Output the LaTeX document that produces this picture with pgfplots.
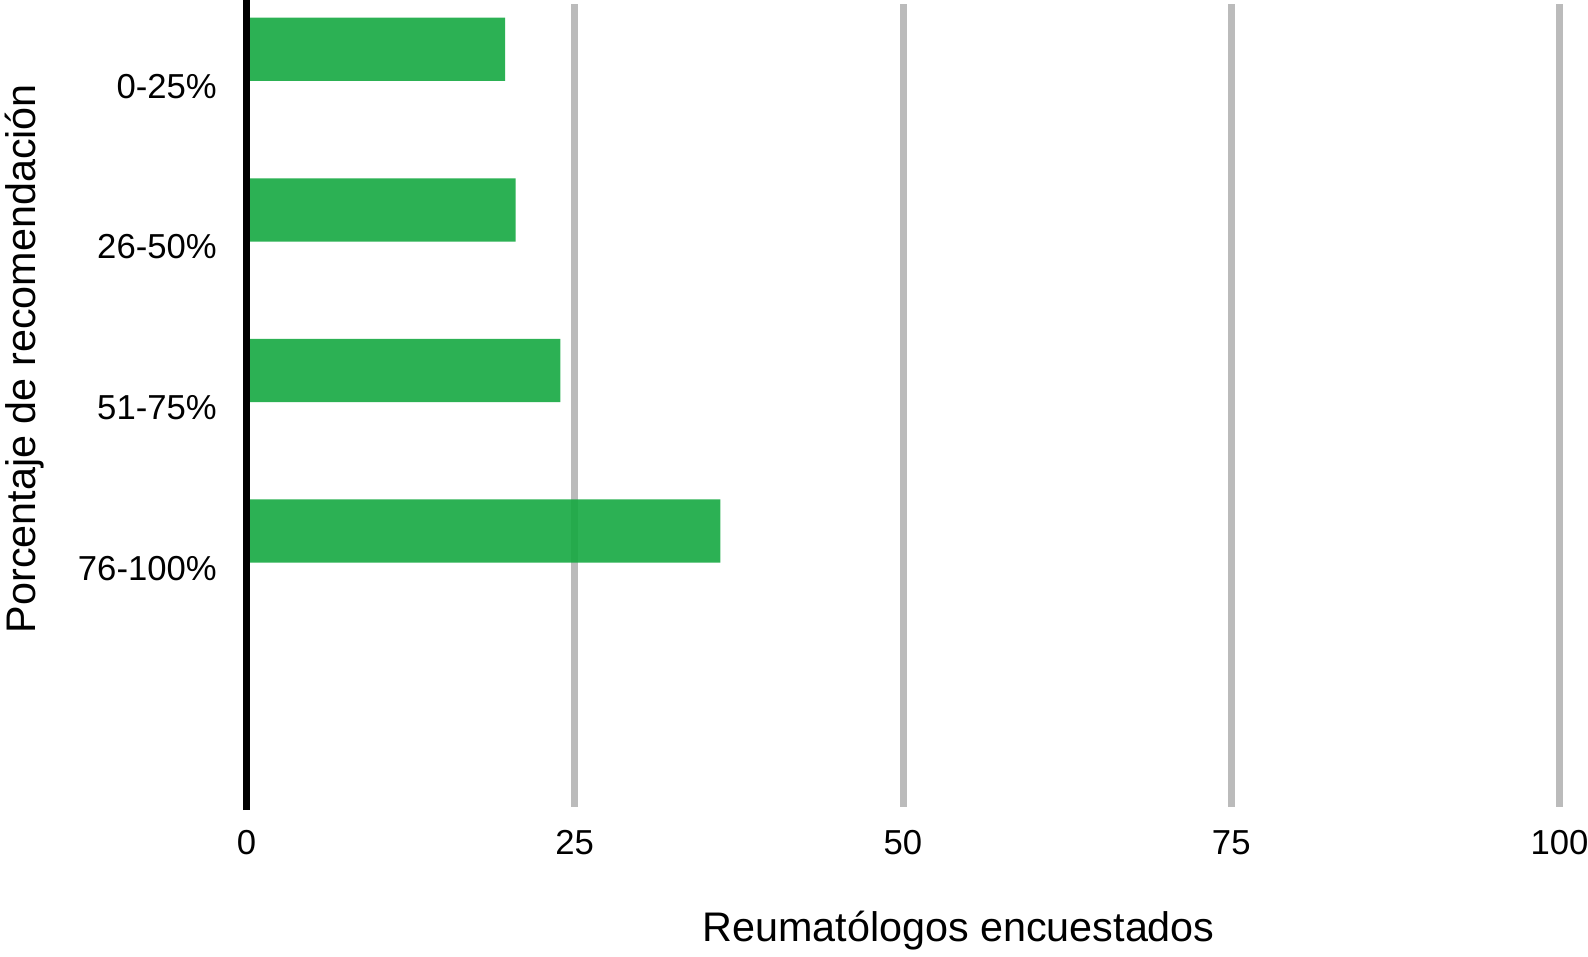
\documentclass[border=0pt]{standalone}
\usepackage{fontspec}
\setmainfont{Liberation Sans}
\usepackage{pgfplots}
\pgfplotsset{compat=1.18}
\definecolor{barGreen}{RGB}{21,169,65}
\definecolor{gridGray}{RGB}{187,187,187}
\begin{document}
\begin{tikzpicture}
\useasboundingbox (-73.95pt,-44.7pt) rectangle (402.45pt,242.1pt);
\begin{axis}[
  at={(0,0)}, anchor=south west,
  scale only axis,
  width=393.9pt, height=240.9pt,
  xmin=0, xmax=100,
  ymin=0.5, ymax=5.5,
  y dir=reverse,
  xtick={0,25,50,75,100},
  ytick={1,2,3,4},
  yticklabels={0-25\%,26-50\%,51-75\%,76-100\%},
  axis line style={draw=none},
  major tick length=0pt,
  tick style={draw=none},
  xmajorgrids=true,
  grid style={draw=gridGray, line width=2.1pt},
  clip=false,
  /pgf/number format/assume math mode=true,
  ticklabel style={font=\fontsize{10.4}{12}\selectfont},
  xticklabel style={yshift=-3.5pt},
  yticklabel style={anchor=east, xshift=-5.4pt, yshift=-0.6pt},
  label style={font=\fontsize{12.4}{14}\selectfont},
  xlabel={Reumatólogos encuestados},
  ylabel={Porcentaje de recomendación},
  xlabel style={at={(axis description cs:0.5423,-0.1669)}, anchor=base},
  ylabel style={at={(axis description cs:-0.1604,0.5585)}, anchor=base, rotate=0},
  xbar,
  bar width=0.394,
  bar shift=-0.218,
]
\addplot[draw=none, fill=barGreen, fill opacity=0.9] coordinates {
  (19.7,1) (20.5,2) (23.9,3) (36.1,4)
};
\draw[black, line width=2.1pt] (rel axis cs:0,-0.004) -- (rel axis cs:0,1.01);
\end{axis}
\end{tikzpicture}
\end{document}
